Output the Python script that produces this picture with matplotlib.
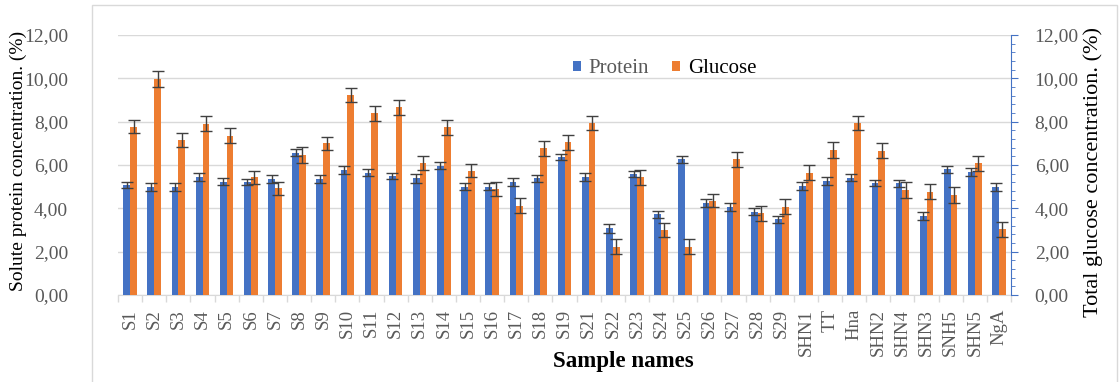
import numpy as np
import matplotlib
matplotlib.use("Agg")
import matplotlib.pyplot as plt
from matplotlib.patches import Rectangle
from matplotlib.ticker import MultipleLocator

samples = ["S1", "S2", "S3", "S4", "S5", "S6", "S7", "S8", "S9", "S10",
           "S11", "S12", "S13", "S14", "S15", "S16", "S17", "S18", "S19", "S21",
           "S22", "S23", "S24", "S25", "S26", "S27", "S28", "S29", "SHN1", "TT",
           "Hna", "SHN2", "SHN4", "SHN3", "SNH5", "SHN5", "NgA"]

protein = [5.08, 4.97, 5.00, 5.46, 5.23, 5.20, 5.35, 6.57, 5.35, 5.77,
           5.65, 5.50, 5.38, 5.97, 5.00, 5.00, 5.23, 5.38, 6.38, 5.46,
           3.08, 5.58, 3.72, 6.26, 4.23, 4.05, 3.85, 3.49, 5.05, 5.26,
           5.42, 5.18, 5.15, 3.65, 5.80, 5.66, 4.97]
protein_err = [0.15, 0.18, 0.18, 0.18, 0.15, 0.14, 0.18, 0.17, 0.18, 0.20,
               0.17, 0.15, 0.20, 0.15, 0.15, 0.15, 0.18, 0.15, 0.15, 0.18,
               0.20, 0.15, 0.17, 0.17, 0.18, 0.18, 0.15, 0.15, 0.18, 0.17,
               0.17, 0.15, 0.15, 0.18, 0.17, 0.18, 0.18]

glucose = [7.77, 9.97, 7.15, 7.90, 7.35, 5.43, 4.92, 6.46, 7.00, 9.23,
           8.38, 8.66, 6.10, 7.74, 5.74, 4.89, 4.12, 6.77, 7.05, 7.95,
           2.23, 5.43, 3.00, 2.23, 4.35, 6.26, 3.77, 4.08, 5.65, 6.69,
           7.95, 6.66, 4.85, 4.77, 4.62, 6.08, 3.03]
glucose_err = [0.31, 0.38, 0.31, 0.34, 0.35, 0.31, 0.31, 0.35, 0.31, 0.31,
               0.34, 0.34, 0.32, 0.34, 0.31, 0.34, 0.35, 0.34, 0.34, 0.32,
               0.35, 0.34, 0.34, 0.35, 0.31, 0.34, 0.34, 0.34, 0.35, 0.35,
               0.32, 0.34, 0.35, 0.34, 0.35, 0.35, 0.35]

plt.rcParams['font.family'] = ['Liberation Serif', 'DejaVu Serif']

BLUE = '#4472C4'
ORANGE = '#ED7D31'
GRID = '#d9d9d9'
LABEL = '#595959'

fig = plt.figure(figsize=(11.19, 3.82), dpi=100)
ax = fig.add_axes([0.1055, 0.2277, 0.798, 0.6806])

x = np.arange(len(samples))
w = 0.28
ekw = dict(ecolor='#404040', elinewidth=1, capthick=1)
ax.bar(x - w / 2, protein, w, color=BLUE, yerr=protein_err, capsize=4.5,
       error_kw=ekw, zorder=3, label='Protein')
ax.bar(x + w / 2, glucose, w, color=ORANGE, yerr=glucose_err, capsize=4.5,
       error_kw=ekw, zorder=3, label='Glucose')

yt = np.arange(0, 13, 2)
ylabels = [f'{v:.2f}'.replace('.', ',') for v in yt]

ax.set_xlim(-0.5, len(samples) - 0.5)
ax.set_ylim(0, 12)
ax.set_yticks(yt)
ax.set_yticklabels(ylabels, fontsize=14, color=LABEL)
ax.tick_params(axis='y', length=0, pad=36)
ax.grid(axis='y', color=GRID, lw=1, zorder=0)
ax.set_axisbelow(True)
for s in ['top', 'left', 'right']:
    ax.spines[s].set_visible(False)
ax.spines['bottom'].set_color(GRID)
ax.set_xticks(x)
ax.set_xticklabels(samples, rotation=90, fontsize=13.5, color=LABEL)
ax.tick_params(axis='x', which='major', length=0, pad=10)
ax.set_xticks(np.arange(-0.5, len(samples)), minor=True)
ax.tick_params(axis='x', which='minor', length=5, color=GRID, width=1)

ax2 = ax.twinx()
ax2.set_ylim(0, 12)
ax2.set_yticks(yt)
ax2.set_yticklabels(ylabels, fontsize=14, color=LABEL)
ax2.yaxis.set_minor_locator(MultipleLocator(0.4))
for s in ['top', 'left', 'bottom']:
    ax2.spines[s].set_visible(False)
ax2.spines['right'].set_color(BLUE)
ax2.tick_params(axis='y', which='major', length=5, color=BLUE, pad=12)
ax2.tick_params(axis='y', which='minor', length=3, color=BLUE)

leg = ax.legend(loc='center', bbox_to_anchor=(0.594, 0.82),
                bbox_transform=fig.transFigure, ncol=2, frameon=False,
                fontsize=15, handlelength=0.4, handleheight=0.4,
                handletextpad=0.35, columnspacing=1.1)
leg.get_texts()[0].set_color(LABEL)
leg.get_texts()[1].set_color('black')

fig.text(18 / 1119, 0.578, 'Solute protein concentration. (%)', rotation=90,
         ha='center', va='center', fontsize=14)
fig.text(1093 / 1119, 0.55, 'Total glucose concentration. (%)', rotation=90,
         ha='center', va='center', fontsize=16)
fig.text(623 / 1119, 1 - 361 / 382, 'Sample names', ha='center', va='center',
         fontsize=16.5, fontweight='bold')

# light frame around the chart area
fig.patches.append(Rectangle((92 / 1119, -0.1), (1117 - 92) / 1119, 1.1 - 5 / 382,
                             transform=fig.transFigure, fill=False,
                             edgecolor=GRID, lw=1))

fig.savefig('out.png', dpi=100)
